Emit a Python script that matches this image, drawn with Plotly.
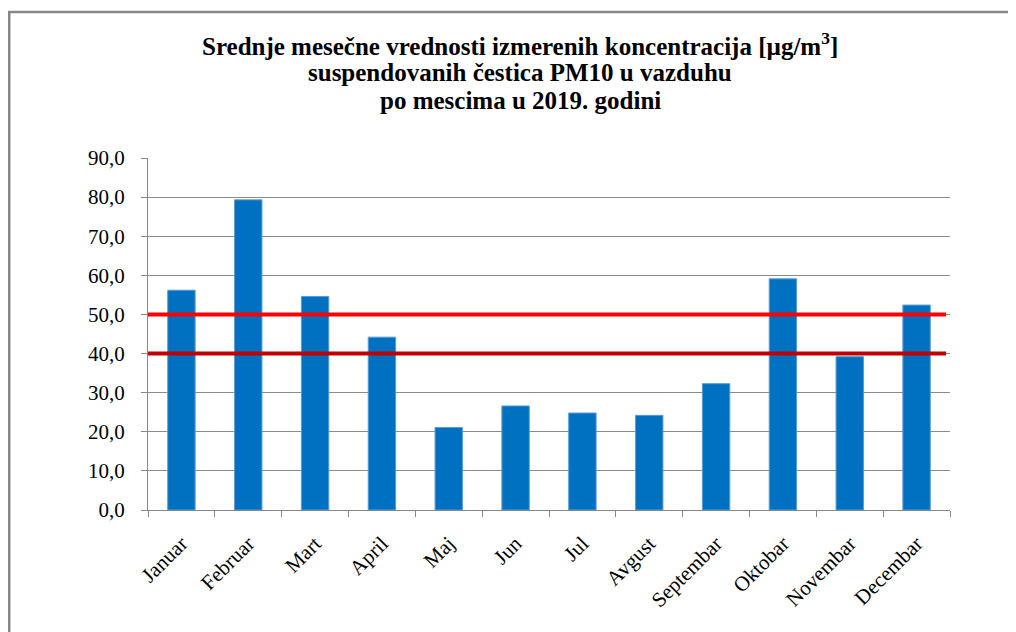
import plotly.graph_objects as go

months = ["Januar", "Februar", "Mart", "April", "Maj", "Jun", "Jul",
          "Avgust", "Septembar", "Oktobar", "Novembar", "Decembar"]
pm10 = [56.2, 79.3, 54.6, 44.2, 21.1, 26.6, 24.8, 24.2, 32.3, 59.1, 39.2, 52.4]
limit_values = [50.0, 40.0]
limit_colors = ["#FF0000", "#C00000"]
y_ticks = [0, 10, 20, 30, 40, 50, 60, 70, 80, 90]

title_lines = ["Srednje mesečne vrednosti izmerenih koncentracija [µg/m<sup>3</sup>]",
               "suspendovanih čestica PM10 u vazduhu",
               "po mescima u 2019. godini"]
title_y = [1.324, 1.2415, 1.162]

FONT = "Liberation Serif, Times New Roman, serif"

fig = go.Figure()
fig.add_trace(go.Bar(
    x=months, y=pm10,
    marker=dict(color="#0070C0", line=dict(color="#5B9BD5", width=1)),
    width=0.41, showlegend=False, hoverinfo="x+y",
))

for val, col in zip(limit_values, limit_colors):
    fig.add_hline(y=val, x0=0, x1=0.995, line=dict(color=col, width=4), layer="above")

for txt, yy in zip(title_lines, title_y):
    fig.add_annotation(text="<b>" + txt + "</b>", xref="paper", yref="paper",
                       x=0.464, y=yy, xanchor="center", yanchor="middle",
                       showarrow=False, font=dict(family=FONT, size=25, color="#000000"))

fig.update_layout(
    width=1008, height=624,
    margin=dict(l=140, r=66, t=150, b=122),
    paper_bgcolor="white", plot_bgcolor="white",
    separators=",.",
    font=dict(family=FONT, color="#000000", size=21),
    xaxis=dict(type="category", showgrid=False, showline=True, linecolor="#888888",
               linewidth=1, ticks="outside", tickson="boundaries", ticklen=6,
               tickcolor="#888888", tickangle=-45, tickfont=dict(size=21),
               ticklabelstandoff=12, automargin=False),
    yaxis=dict(range=[0, 90], tickvals=y_ticks, tickformat=".1f", showgrid=True,
               gridcolor="#8c8c8c", gridwidth=1, showline=True, linecolor="#888888",
               ticks="outside", ticklen=6, tickcolor="#888888", zeroline=False,
               tickfont=dict(size=21), ticklabelstandoff=12, automargin=False),
    bargap=0.59,
)

# outer chart border
fig.add_shape(type="rect", xref="paper", yref="paper",
              x0=-0.173, x1=1.2, y0=-0.45, y1=1.415,
              line=dict(color="#888888", width=2.5), layer="below")

fig.write_html("out.html")
